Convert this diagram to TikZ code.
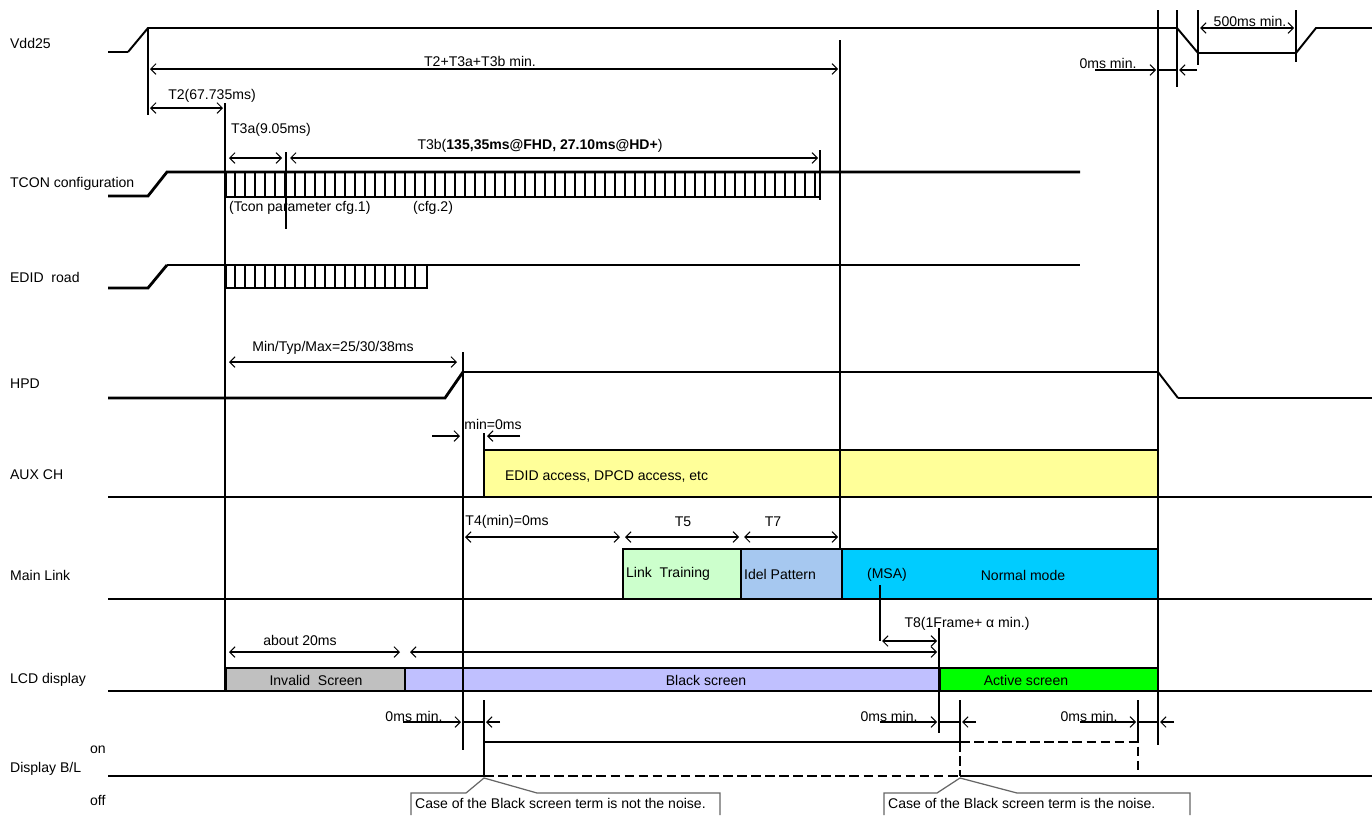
\documentclass[tikz,border=0pt]{standalone}
\usepackage{fontspec}
\setmainfont{Liberation Sans}
\usetikzlibrary{arrows.meta}
\definecolor{auxfill}{HTML}{FFFF99}
\definecolor{trainfill}{HTML}{CCFFCC}
\definecolor{idlefill}{HTML}{A6C8F0}
\definecolor{normalfill}{HTML}{00CCFF}
\definecolor{invalidfill}{HTML}{C0C0C0}
\definecolor{blackfill}{HTML}{C0C0FF}
\definecolor{activefill}{HTML}{00FF00}
\tikzset{
  lbl/.style={font=\fontsize{8}{9}\selectfont, inner sep=1pt},
  sig/.style={line width=1.6pt},
  mid/.style={line width=1.1pt},
  vline/.style={line width=0.8pt},
  hatch/.style={line width=0.6pt},
  dim/.style={<->, line width=0.6pt},
  phase/.style={line width=1.4pt},
  noisy/.style={line width=1.6pt, dash pattern=on 5.5pt off 2.5pt},
  callout/.style={line width=0.7pt, black!60}
}
\begin{document}
\begin{tikzpicture}[x=0.02cm, y=-0.02cm, >={Straight Barb[length=3pt,width=6pt]}]
\useasboundingbox (0,0) rectangle (1372,815);
% signal names
\node[lbl, anchor=west] (nvdd) at (8,43) {Vdd25};
\node[lbl, anchor=west] (ntcon) at (8,184) {TCON configuration};
\node[lbl, anchor=west] (nedid) at (8,277) {EDID\ \ road};
\node[lbl, anchor=west] (nhpd) at (8,384) {HPD};
\node[lbl, anchor=west] (naux) at (8,475) {AUX CH};
\node[lbl, anchor=west] (nmain) at (8,575) {Main Link};
\node[lbl, anchor=west] (nlcd) at (8,680) {LCD display};
\node[lbl, anchor=west] (nbl) at (8,769) {Display B/L};
\node[lbl, anchor=west] (non) at (88,750) {on};
\node[lbl, anchor=west] (noff) at (88,800) {off};
% fills first
\fill[auxfill] (484,450) rectangle (1158,497);
\fill[trainfill] (623,549) rectangle (741,599);
\fill[idlefill] (741,549) rectangle (842,599);
\fill[normalfill] (842,549) rectangle (1158,599);
\fill[invalidfill] (226,668) rectangle (405,691);
\fill[blackfill] (405,668) rectangle (940,691);
\fill[activefill] (940,668) rectangle (1158,691);
% timing marks
\draw[vline] (148,28) -- (148,115);
\draw[vline] (225,103) -- (225,691);
\draw[vline] (286,152) -- (286,229);
\draw[vline] (840,40) -- (840,549);
\draw[vline] (463,352) -- (463,750);
\draw[vline] (484,433) -- (484,497);
\draw[vline] (484,700) -- (484,776);
\draw[vline] (880,585) -- (880,641);
\draw[vline] (939,628) -- (939,733);
\draw[vline] (960,700) -- (960,742);
\draw[vline] (1138,700) -- (1138,742);
\draw[vline] (1158,10) -- (1158,745);
\draw[vline] (1177,10) -- (1177,87);
\draw[vline] (1198,10) -- (1198,65);
\draw[vline] (1296,10) -- (1296,62);
\draw[sig] (820,150) -- (820,200);
% Vdd25
\draw[sig] (108,52) -- (128,52);
\draw[mid] (128,52) -- (148,28) -- (1177,28) -- (1198,53);
\draw[sig] (1198,53) -- (1296,53);
\draw[mid] (1296,53) -- (1316,28) -- (1372,28);
% TCON configuration
\draw[sig] (108,196) -- (148,196) -- (167,172) -- (1080,172);
\draw[mid] (225,197) -- (820,197);
\foreach \x in {235,245,...,815}
  \draw[hatch] (\x,172) -- (\x,197);
\draw[sig] (226,172) -- (226,197);
% EDID road
\draw[sig] (108,288) -- (148,288) -- (167,265);
\draw[mid] (167,265) -- (1080,265);
\draw[sig] (225,288) -- (427,288) -- (427,265);
\foreach \x in {235,245,...,420}
  \draw[hatch] (\x,265) -- (\x,288);
\draw[sig] (226,265) -- (226,288);
% HPD
\draw[sig] (108,398) -- (445,398) -- (463,372);
\draw[mid] (463,372) -- (1158,372) -- (1178,398);
\draw[sig] (1178,398) -- (1372,398);
% AUX CH
\draw[phase] (484,450) -- (1158,450) -- (1158,497);
\draw[sig] (108,497) -- (1372,497);
\node[lbl, anchor=west] (tauxinfo) at (503,476) {EDID access, DPCD access, etc};
% Main Link
\draw[phase] (623,599) -- (623,549) -- (1158,549) -- (1158,599);
\draw[phase] (741,549) -- (741,599);
\draw[phase] (842,549) -- (842,599);
\draw[vline] (108,599) -- (1372,599);
\node[lbl, anchor=west] (ttrain) at (624,574) {Link\ \ Training};
\node[lbl, anchor=west] (tidle) at (742,574) {Idel Pattern};
\node[lbl] (tmsa) at (887,575) {(MSA)};
\node[lbl] (tnormal) at (1023,575) {Normal mode};
% LCD display
\draw[phase] (226,691) -- (226,668) -- (1158,668) -- (1158,691);
\draw[phase] (405,668) -- (405,691);
\draw[phase] (940,668) -- (940,691);
\draw[sig] (108,691) -- (1372,691);
\node[lbl] (tinvalid) at (316,680) {Invalid\ \ Screen};
\node[lbl] (tblack) at (706,680) {Black screen};
\node[lbl] (tactive) at (1026,680) {Active screen};
% Display B/L
\draw[mid] (108,776) -- (484,776);
\draw[sig] (484,776) -- (484,742) -- (960,742);
\draw[noisy] (484,776) -- (960,776);
\draw[noisy] (960,742) -- (1138,742) -- (1138,776);
\draw[noisy] (960,742) -- (960,776);
\draw[sig] (960,776) -- (1372,776);
% dimensions
\draw[dim] (150,69) -- (838,69);
\node[lbl] (tsum) at (480,61) {T2+T3a+T3b min.};
\draw[dim] (150,108) -- (223,108);
\node[lbl] (tt2) at (212,96) {T2(67.735ms)};
\node[lbl, anchor=west] (tt3a) at (229,130) {T3a(9.05ms)};
\draw[dim] (229,158) -- (282,158);
\draw[dim] (290,158) -- (818,158);
\node[lbl] (tt3b) at (540,146) {T3b(\textbf{135,35ms@FHD, 27.10ms@HD+})};
\node[lbl, anchor=west] (tcfga) at (227,208) {(Tcon parameter cfg.1)};
\node[lbl, anchor=west] (tcfgb) at (411,208) {(cfg.2)};
\draw[dim] (1200,28) -- (1294,28);
\node[lbl] (t500) at (1250,21) {500ms min.};
\draw[->, line width=0.6pt] (1095,70) -- (1156,70);
\draw[vline] (1158,70) -- (1177,70);
\draw[->, line width=0.6pt] (1197,70) -- (1179,70);
\node[lbl] (toffvdd) at (1108,63) {0ms min.};
\draw[dim] (229,362) -- (457,362);
\node[lbl] (thpd) at (333,348) {Min/Typ/Max=25/30/38ms};
\draw[->, line width=0.6pt] (432,436) -- (460,436);
\draw[->, line width=0.6pt] (520,436) -- (487,436);
\node[lbl] (tmin) at (493,424) {min=0ms};
\draw[dim] (465,537) -- (620,537);
\node[lbl] (tt4) at (507,522) {T4(min)=0ms};
\draw[dim] (625,537) -- (739,537);
\node[lbl] (tt5) at (683,522) {T5};
\draw[dim] (744,537) -- (838,537);
\node[lbl] (tt7) at (773,522) {T7};
\draw[dim] (882,641) -- (937,641);
\node[lbl] (tt8) at (967,624) {T8(1Frame+ α min.)};
\draw[dim] (229,652) -- (400,652);
\node[lbl] (tabout) at (300,640) {about 20ms};
\draw[dim] (410,652) -- (937,652);
% 0ms min. marks above B/L
\draw[->, line width=0.6pt] (403,722) -- (461,722);
\draw[vline] (463,722) -- (484,722);
\draw[->, line width=0.6pt] (500,722) -- (486,722);
\node[lbl] (tbla) at (414,716) {0ms min.};
\draw[->, line width=0.6pt] (880,722) -- (937,722);
\draw[vline] (939,722) -- (960,722);
\draw[->, line width=0.6pt] (976,722) -- (962,722);
\node[lbl] (tblb) at (889,716) {0ms min.};
\draw[->, line width=0.6pt] (1080,722) -- (1136,722);
\draw[vline] (1138,722) -- (1158,722);
\draw[->, line width=0.6pt] (1174,722) -- (1160,722);
\node[lbl] (tblc) at (1089,716) {0ms min.};
% callouts
\draw[callout] (411,815) -- (411,793) -- (466,793) -- (484,778) -- (537,793) -- (720,793) -- (720,815);
\node[lbl, anchor=west] (tnotnoise) at (413,803) {Case of the Black screen term is not the noise.};
\draw[callout] (884,815) -- (884,793) -- (937,793) -- (960,778) -- (1017,793) -- (1190,793) -- (1190,815);
\node[lbl, anchor=west] (tnoise) at (886,803) {Case of the Black screen term is the noise.};
\end{tikzpicture}
\end{document}
